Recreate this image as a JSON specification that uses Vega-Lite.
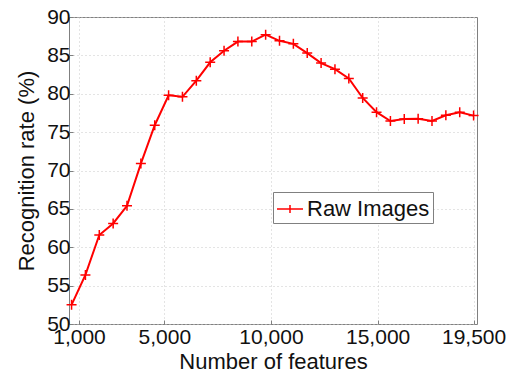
{
  "$schema": "https://vega.github.io/schema/vega-lite/v6.json",
  "width": 408,
  "height": 307,
  "autosize": {"type": "none"},
  "padding": {"left": 69, "top": 17, "right": 31, "bottom": 53},
  "background": "white",
  "config": {
    "font": "Liberation Sans",
    "view": {"stroke": "#808080", "strokeWidth": 1},
    "axis": {
      "grid": true,
      "gridColor": "#c8c8c8",
      "gridDash": [1, 3],
      "gridWidth": 1,
      "domain": false,
      "ticks": true,
      "tickSize": -4,
      "tickColor": "#808080",
      "labelFont": "Liberation Sans",
      "labelFontSize": 21,
      "labelColor": "#111",
      "titleFont": "Liberation Sans",
      "titleFontSize": 22,
      "titleFontWeight": "normal",
      "titleColor": "#111"
    }
  },
  "data": {
    "values": [
      {"features": 650, "rate": 52.5, "series": "Raw Images"},
      {"features": 1300, "rate": 56.4, "series": "Raw Images"},
      {"features": 1950, "rate": 61.6, "series": "Raw Images"},
      {"features": 2600, "rate": 63.1, "series": "Raw Images"},
      {"features": 3250, "rate": 65.4, "series": "Raw Images"},
      {"features": 3900, "rate": 70.9, "series": "Raw Images"},
      {"features": 4550, "rate": 75.9, "series": "Raw Images"},
      {"features": 5200, "rate": 79.8, "series": "Raw Images"},
      {"features": 5850, "rate": 79.6, "series": "Raw Images"},
      {"features": 6500, "rate": 81.7, "series": "Raw Images"},
      {"features": 7150, "rate": 84.1, "series": "Raw Images"},
      {"features": 7800, "rate": 85.6, "series": "Raw Images"},
      {"features": 8450, "rate": 86.8, "series": "Raw Images"},
      {"features": 9100, "rate": 86.8, "series": "Raw Images"},
      {"features": 9750, "rate": 87.7, "series": "Raw Images"},
      {"features": 10400, "rate": 86.9, "series": "Raw Images"},
      {"features": 11050, "rate": 86.5, "series": "Raw Images"},
      {"features": 11700, "rate": 85.3, "series": "Raw Images"},
      {"features": 12350, "rate": 84.0, "series": "Raw Images"},
      {"features": 13000, "rate": 83.2, "series": "Raw Images"},
      {"features": 13650, "rate": 82.0, "series": "Raw Images"},
      {"features": 14300, "rate": 79.45, "series": "Raw Images"},
      {"features": 14950, "rate": 77.6, "series": "Raw Images"},
      {"features": 15600, "rate": 76.45, "series": "Raw Images"},
      {"features": 16250, "rate": 76.7, "series": "Raw Images"},
      {"features": 16900, "rate": 76.75, "series": "Raw Images"},
      {"features": 17550, "rate": 76.45, "series": "Raw Images"},
      {"features": 18200, "rate": 77.2, "series": "Raw Images"},
      {"features": 18850, "rate": 77.6, "series": "Raw Images"},
      {"features": 19500, "rate": 77.15, "series": "Raw Images"}
    ]
  },
  "encoding": {
    "x": {
      "field": "features",
      "type": "quantitative",
      "scale": {"domain": [530, 19660], "nice": false, "zero": false},
      "axis": {"values": [1000, 5000, 10000, 15000, 19500], "format": ",.0f", "title": "Number of features", "labelPadding": 6, "titlePadding": 4}
    },
    "y": {
      "field": "rate",
      "type": "quantitative",
      "scale": {"domain": [50, 90], "nice": false, "zero": false},
      "axis": {"values": [50, 55, 60, 65, 70, 75, 80, 85, 90], "format": "d", "title": "Recognition rate (%)", "labelPadding": 3, "titlePadding": 8}
    },
    "color": {
      "field": "series",
      "type": "nominal",
      "scale": {"range": ["#ff0000"]},
      "legend": {
        "title": null,
        "orient": "none",
        "legendX": 204,
        "legendY": 175,
        "direction": "vertical",
        "strokeColor": "#808080",
        "fillColor": "white",
        "padding": 3,
        "symbolType": "M-1,0L1,0M0,-0.3L0,0.3",
        "symbolSize": 676,
        "symbolStrokeWidth": 1.5,
        "symbolStrokeColor": "#ff0000",
        "symbolFillColor": "transparent",
        "labelFontSize": 22,
        "labelFont": "Liberation Sans",
        "labelColor": "#111",
        "labelOffset": 3
      }
    }
  },
  "layer": [
    {"mark": {"type": "line", "strokeWidth": 2}},
    {"mark": {"type": "point", "shape": "M-1,0L1,0M0,-1L0,1", "size": 100, "strokeWidth": 1.5, "filled": false, "opacity": 1}}
  ]
}
